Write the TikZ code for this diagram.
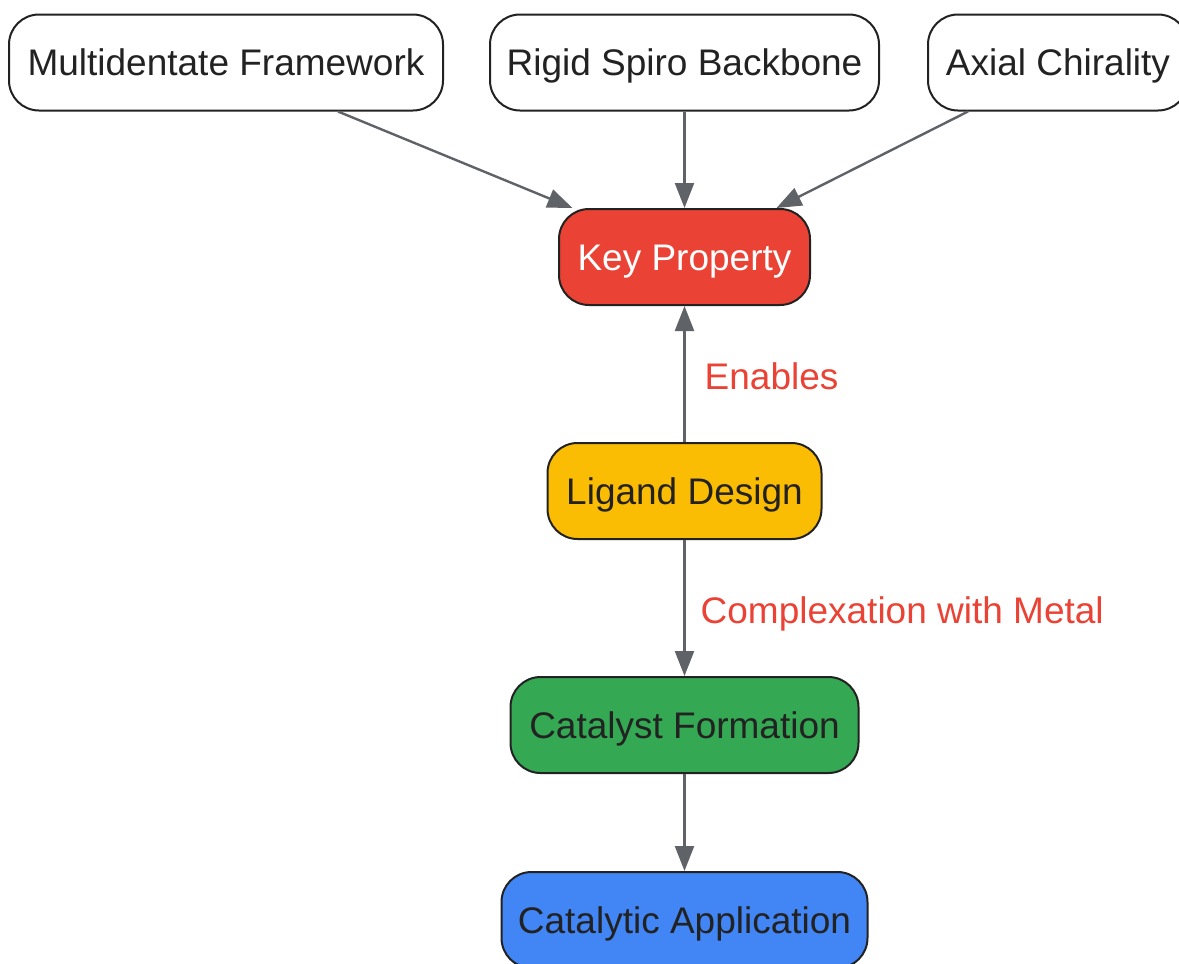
\documentclass[tikz,border=0pt]{standalone}
\usepackage{fontspec}
\setmainfont{Liberation Sans}
\usetikzlibrary{arrows.meta,calc}
\definecolor{txt}{HTML}{222222}
\definecolor{edge}{HTML}{5F6368}
\definecolor{gred}{HTML}{EA4335}
\definecolor{gyellow}{HTML}{FBBC04}
\definecolor{ggreen}{HTML}{34A853}
\definecolor{gblue}{HTML}{4285F4}
\begin{document}
\begin{tikzpicture}[x=1pt,y=-1pt,
  box/.style={draw=txt,line width=2pt,rounded corners=30pt,minimum height=96pt,
    inner sep=0pt,text=txt,text height=30pt,text depth=4pt,font=\fontsize{37}{44}\selectfont},
  conn/.style={draw=edge,line width=2.4pt,-{Triangle[length=25pt,width=19pt]}},
  lab/.style={text=gred,font=\fontsize{37}{44}\selectfont,anchor=west,inner sep=0pt,
    text height=32pt,text depth=2pt}]
\useasboundingbox (0,0) rectangle (1179,964);
\node[box,fill=white,minimum width=434pt] (md) at (226,62.5) {Multidentate Framework};
\node[box,fill=white,minimum width=389pt] (rs) at (684.5,62.5) {Rigid Spiro Backbone};
\node[box,fill=white,minimum width=260pt] (ax) at (1058,62.5) {Axial Chirality};
\node[box,fill=gred,text=white,minimum width=251pt] (key) at (684.5,257) {Key Property};
\node[box,fill=gyellow,minimum width=274pt] (lig) at (684.5,491) {Ligand Design};
\node[box,fill=ggreen,minimum width=348pt] (cat) at (684.5,725) {Catalyst Formation};
\node[box,fill=gblue,minimum width=366pt] (app) at (684.5,920) {Catalytic Application};
\draw[conn] ($(md.south)+(112,0)$) -- ($(key.north)+(-112,0)$);
\draw[conn] (rs.south) -- (key.north);
\draw[conn] ($(ax.south)+(-90,0)$) -- ($(key.north)+(92,0)$);
\draw[conn] (lig.north) -- (key.south) node[lab,pos=0.5,xshift=19pt] {Enables};
\draw[conn] (lig.south) -- (cat.north) node[lab,pos=0.5,xshift=15pt] {Complexation with Metal};
\draw[conn] (cat.south) -- (app.north);
\end{tikzpicture}
\end{document}
